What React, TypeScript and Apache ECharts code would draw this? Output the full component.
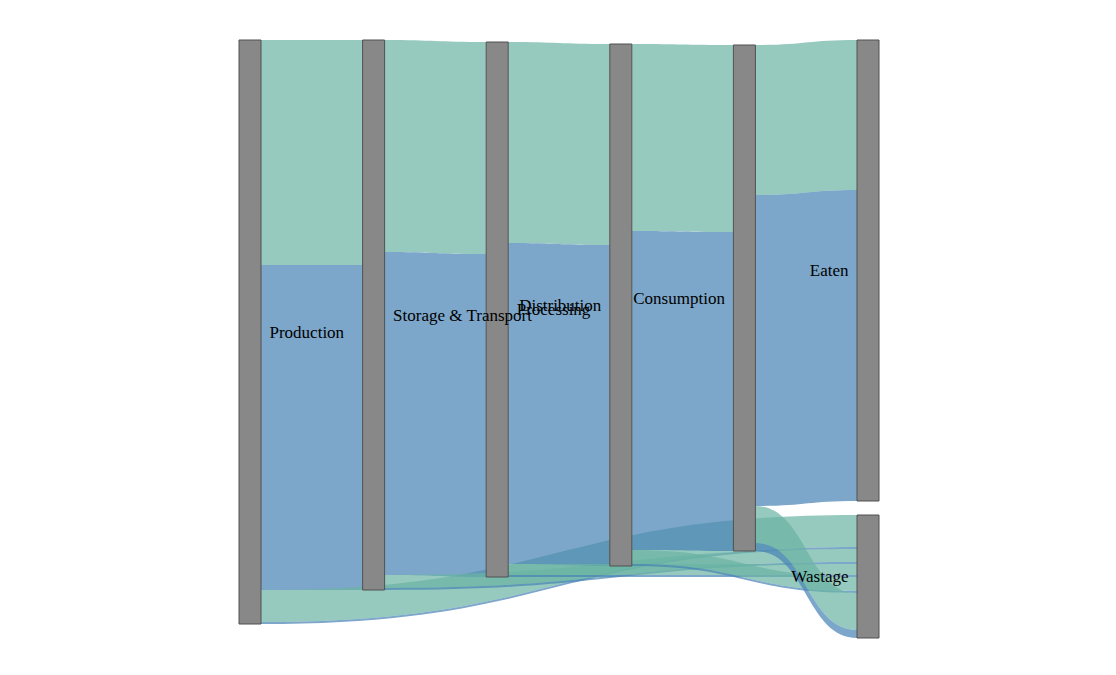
import { useEffect, useRef } from "react";
import * as echarts from "echarts";

// food supply chain stages, left to right
const STAGES = [
  "Production",
  "Storage & Transport",
  "Processing",
  "Distribution",
  "Consumption",
];
const NEXT_STAGE = [
  "Storage & Transport",
  "Processing",
  "Distribution",
  "Consumption",
  "Eaten",
];
const SINKS = ["Eaten", "Wastage"];

// two flows per stage: green share and blue share
const GREEN_FORWARD = [225, 212, 201, 187, 150];
const GREEN_WASTE = [32, 13, 11, 14, 37];
const BLUE_FORWARD = [325, 323, 321, 319, 311];
const BLUE_WASTE = [2, 2, 2, 2, 8];

const GREEN = "#69b3a2";
const BLUE = "#4682b4";

// labels sit right of the node in the left half, left of it in the right half
const RIGHT_LABELS = ["Production", "Storage & Transport", "Processing"];

// small downward drift of the middle stages (px within the 598px layout)
const NODE_OFFSET: Record<string, number> = {
  Processing: 2,
  Distribution: 4,
  Consumption: 5,
};
const LAYOUT_HEIGHT = 598;

export default function App() {
  const ref = useRef<HTMLDivElement>(null);

  useEffect(() => {
    if (!ref.current) return;
    const chart = echarts.init(ref.current, undefined, { renderer: "svg" });

    const nodes = [...STAGES, ...SINKS].map((name) => ({
      name,
      ...(NODE_OFFSET[name] != null
        ? { localY: NODE_OFFSET[name] / LAYOUT_HEIGHT }
        : {}),
      label: { position: RIGHT_LABELS.includes(name) ? "right" : "left" },
    }));

    const links: {
      source: string;
      target: string;
      value: number;
      lineStyle: { color: string };
    }[] = [];
    STAGES.forEach((s, i) => {
      links.push({ source: s, target: NEXT_STAGE[i], value: GREEN_FORWARD[i], lineStyle: { color: GREEN } });
      links.push({ source: s, target: NEXT_STAGE[i], value: BLUE_FORWARD[i], lineStyle: { color: BLUE } });
      links.push({ source: s, target: "Wastage", value: GREEN_WASTE[i], lineStyle: { color: GREEN } });
      links.push({ source: s, target: "Wastage", value: BLUE_WASTE[i], lineStyle: { color: BLUE } });
    });

    chart.setOption({
      animation: false,
      series: [
        {
          type: "sankey",
          left: 231,
          right: 229,
          top: 32,
          bottom: 29,
          nodeWidth: 22,
          nodeGap: 14,
          nodeAlign: "justify",
          layoutIterations: 0,
          draggable: false,
          emphasis: { disabled: true },
          data: nodes,
          links,
          itemStyle: { color: "#888888", borderColor: "#505050", borderWidth: 1 },
          lineStyle: { opacity: 0.7, curveness: 0.5 },
          label: {
            color: "#000",
            fontFamily: '"Liberation Serif", serif',
            fontSize: 17,
            distance: 8,
          },
        },
      ],
    });

    return () => chart.dispose();
  }, []);

  return <div ref={ref} style={{ width: "100%", height: 659 }} />;
}
